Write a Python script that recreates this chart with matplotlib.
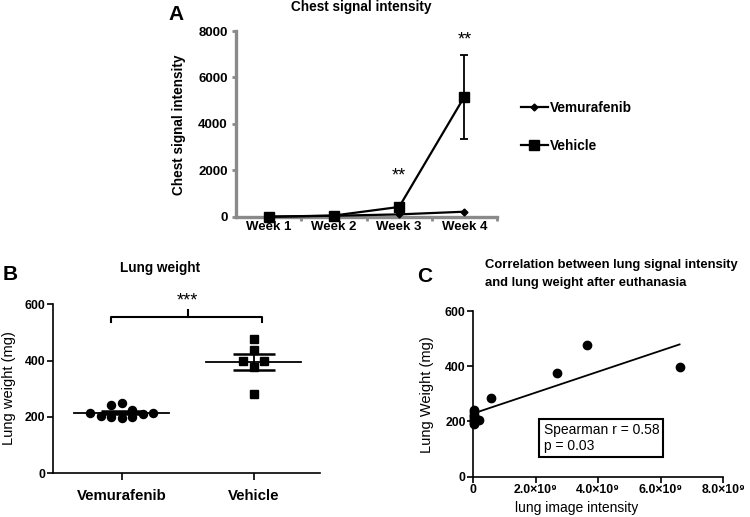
import matplotlib
matplotlib.use("Agg")
import matplotlib.pyplot as plt
import numpy as np
from matplotlib.lines import Line2D

plt.rcParams['font.family'] = ['Liberation Sans', 'DejaVu Sans']

# ---------------- data ----------------
weeks = ["Week 1", "Week 2", "Week 3", "Week 4"]
vemu_signal = [0, 40, 100, 215]
vehicle_signal = [0, 50, 420, 5170]
vehicle_signal_err = [0, 0, 0, 1815]
signif_A = ["", "", "**", "**"]
signif_A_y = [0, 0, 1750, 7600]

groups = ["Vemurafenib", "Vehicle"]
lung_vemu = [214, 209, 200, 195, 200, 203, 213, 224, 248, 241]
lung_vehicle = [476, 438, 399, 399, 376, 282]

corr_x = [0.02e9, 0.02e9, 0.02e9, 0.02e9, 0.02e9, 0.02e9, 0.02e9, 0.02e9, 0.02e9,
          0.18e9, 0.56e9, 2.69e9, 3.63e9, 6.60e9]
corr_y = [241, 235, 223, 218, 212, 205, 200, 195, 191,
          205, 285, 374, 477, 398]
fit_x = [0.0, 6.6e9]
fit_y = [229, 479]
c_xticks = [0, 2e9, 4e9, 6e9, 8e9]
c_xticklabels = ["0", "2.0×10⁹", "4.0×10⁹", "6.0×10⁹", "8.0×10⁹"]

W, H = 750, 517
fig = plt.figure(figsize=(7.5, 5.17), dpi=100)


def fx(px):
    return px / W


def fy(py):
    return 1 - py / H


def axes_px(l, r, t, b):
    return fig.add_axes([fx(l), fy(b), fx(r) - fx(l), fy(t) - fy(b)])


# ---------------- Panel A ----------------
gray = "#8a8a8a"
axA = axes_px(236, 497, 31, 216.7)
x = np.arange(1, len(weeks) + 1)
axA.plot(x, vemu_signal, color="black", lw=1.6, marker="D", ms=3.5, zorder=3,
         clip_on=False)
axA.errorbar(x, vehicle_signal, yerr=vehicle_signal_err, color="black", lw=1.6,
             marker="s", ms=7, capsize=3, capthick=1.3, elinewidth=1.3, zorder=4,
             clip_on=False)
axA.set_xlim(0.5, 4.5)
axA.set_ylim(0, 8000)
axA.set_yticks([0, 2000, 4000, 6000, 8000])
axA.set_xticks(x)
axA.set_xticklabels(weeks)
axA.set_xticks([1.5, 2.5, 3.5, 4.5], minor=True)
for s in ["top", "right"]:
    axA.spines[s].set_visible(False)
for s in ["left", "bottom"]:
    axA.spines[s].set_color(gray)
    axA.spines[s].set_linewidth(2.4)
axA.tick_params(axis="x", which="major", length=0, pad=3, labelsize=9.5)
axA.tick_params(axis="x", which="minor", length=3, width=2, color=gray, direction="out")
axA.tick_params(axis="y", length=3, width=2, color=gray, pad=3, labelsize=9.5)
for lab in axA.get_xticklabels() + axA.get_yticklabels():
    lab.set_fontweight("bold")
for xi, s, sy in zip(x, signif_A, signif_A_y):
    if s:
        axA.text(xi, sy, s, ha="center", va="center", fontsize=13,
                 clip_on=False)
fig.text(fx(178.5), fy(125), "Chest signal intensity", rotation=90, ha="center",
         va="center", fontsize=9.8, fontweight="bold")
fig.text(fx(361), fy(7), "Chest signal intensity", ha="center", va="center",
         fontsize=9.8, fontweight="bold")
fig.text(fx(176), fy(15), "A", ha="center", va="center", fontsize=15,
         fontweight="bold")
handles = [Line2D([], [], color="black", lw=1.6, marker="D", ms=3.5),
           Line2D([], [], color="black", lw=1.6, marker="s", ms=7)]
fig.legend(handles, ["Vemurafenib", "Vehicle"], loc="upper left",
           bbox_to_anchor=(fx(514), fy(94)), frameon=False, handlelength=2.0,
           handletextpad=0.15, labelspacing=1.75, borderpad=0,
           prop={"weight": "bold", "size": 9.8})


# ---------------- Panel B ----------------
def swarm_offsets(vals, row_width=30, base=190, step=0.08):
    vals = np.asarray(vals, dtype=float)
    offs = np.zeros(len(vals))
    rows = np.floor((vals - base) / row_width).astype(int)
    for r in np.unique(rows):
        idx = np.where(rows == r)[0]
        idx = idx[np.argsort(-vals[idx] if r > 0 else vals[idx])]
        n = len(idx)
        slots = (np.arange(n) - (n - 1) / 2) * step
        order = np.argsort(np.abs(slots) + 1e-6 * np.sign(slots))
        for k, i in enumerate(idx):
            offs[i] = slots[order[k]]
    return offs


axB = axes_px(53, 320, 304.3, 473.3)
data_B = [lung_vemu, lung_vehicle]
markers_B = ["o", "s"]
for gi, (vals, mk) in enumerate(zip(data_B, markers_B)):
    vals = np.asarray(vals, dtype=float)
    if mk == "o":
        offs = swarm_offsets(vals)
    else:
        offs = np.zeros(len(vals))
        # equal values share a row: spread them
        for v in np.unique(vals):
            idx = np.where(vals == v)[0]
            if len(idx) > 1:
                offs[idx] = (np.arange(len(idx)) - (len(idx) - 1) / 2) * 0.16
    axB.plot(gi + offs, vals, ls="none", marker=mk, ms=5.8 if mk == "o" else 5.5,
             color="black", zorder=3, clip_on=False)
    m = vals.mean()
    sem = vals.std(ddof=1) / np.sqrt(len(vals))
    axB.plot([gi - 0.36, gi + 0.36], [m, m], color="black", lw=1.3, zorder=2)
    axB.errorbar([gi], [m], yerr=[sem], color="black", lw=1.3, capsize=15,
                 capthick=1.8, zorder=2)
axB.set_xlim(-0.52, 1.5)
axB.set_ylim(0, 600)
axB.set_yticks([0, 200, 400, 600])
axB.set_xticks([0, 1])
axB.set_xticklabels(groups)
for s in ["top", "right"]:
    axB.spines[s].set_visible(False)
for s in ["left", "bottom"]:
    axB.spines[s].set_linewidth(1.2)
axB.tick_params(axis="y", length=4, width=1.2, pad=1.5, labelsize=8.8)
axB.tick_params(axis="x", length=5, width=1.2, pad=6, labelsize=10.8)
for lab in axB.get_xticklabels() + axB.get_yticklabels():
    lab.set_fontweight("bold")
# significance bracket
axB.plot([0 - 0.08, 0 - 0.08, 1 + 0.06, 1 + 0.06], [538, 556, 556, 538],
         color="black", lw=1.5, clip_on=False)
axB.plot([0.5, 0.5], [556, 578], color="black", lw=1.5, clip_on=False)
axB.text(0.5, 612, "***", ha="center", va="center", fontsize=13, clip_on=False)
fig.text(fx(9), fy(388), "Lung weight (mg)", rotation=90, ha="center",
         va="center", fontsize=10.5)
fig.text(fx(160), fy(268), "Lung weight", ha="center", va="center",
         fontsize=9.8, fontweight="bold")
fig.text(fx(10), fy(275), "B", ha="center", va="center", fontsize=15,
         fontweight="bold")

# ---------------- Panel C ----------------
axC = axes_px(473.3, 723.3, 311, 476.7)
axC.plot(corr_x, corr_y, ls="none", marker="o", ms=6, color="black", zorder=3,
         clip_on=False)
axC.plot(fit_x, fit_y, color="black", lw=1.3, zorder=2)
axC.set_xlim(0, 8e9)
axC.set_ylim(0, 600)
axC.set_yticks([0, 200, 400, 600])
axC.set_xticks(c_xticks)
axC.set_xticklabels(c_xticklabels)
for s in ["top", "right"]:
    axC.spines[s].set_visible(False)
for s in ["left", "bottom"]:
    axC.spines[s].set_linewidth(1.2)
axC.tick_params(axis="both", length=4, width=1.2, pad=1.5, labelsize=8.8)
for lab in axC.get_xticklabels() + axC.get_yticklabels():
    lab.set_fontweight("bold")
axC.text(2.25e9, 139, "Spearman r = 0.58\np = 0.03", ha="left", va="center",
         fontsize=10, linespacing=1.15,
         bbox=dict(boxstyle="square,pad=0.3", fc="white", ec="black", lw=1.5))
fig.text(fx(427.5), fy(395), "Lung Weight (mg)", rotation=90, ha="center",
         va="center", fontsize=10.5)
fig.text(fx(577), fy(508), "lung image intensity", ha="center", va="center",
         fontsize=10)
fig.text(fx(485), fy(265), "Correlation between lung signal intensity",
         ha="left", va="center", fontsize=9.4, fontweight="bold")
fig.text(fx(485), fy(283), "and lung weight after euthanasia",
         ha="left", va="center", fontsize=9.4, fontweight="bold")
fig.text(fx(425), fy(276), "C", ha="center", va="center", fontsize=15,
         fontweight="bold")

fig.savefig("out.png", dpi=100)
